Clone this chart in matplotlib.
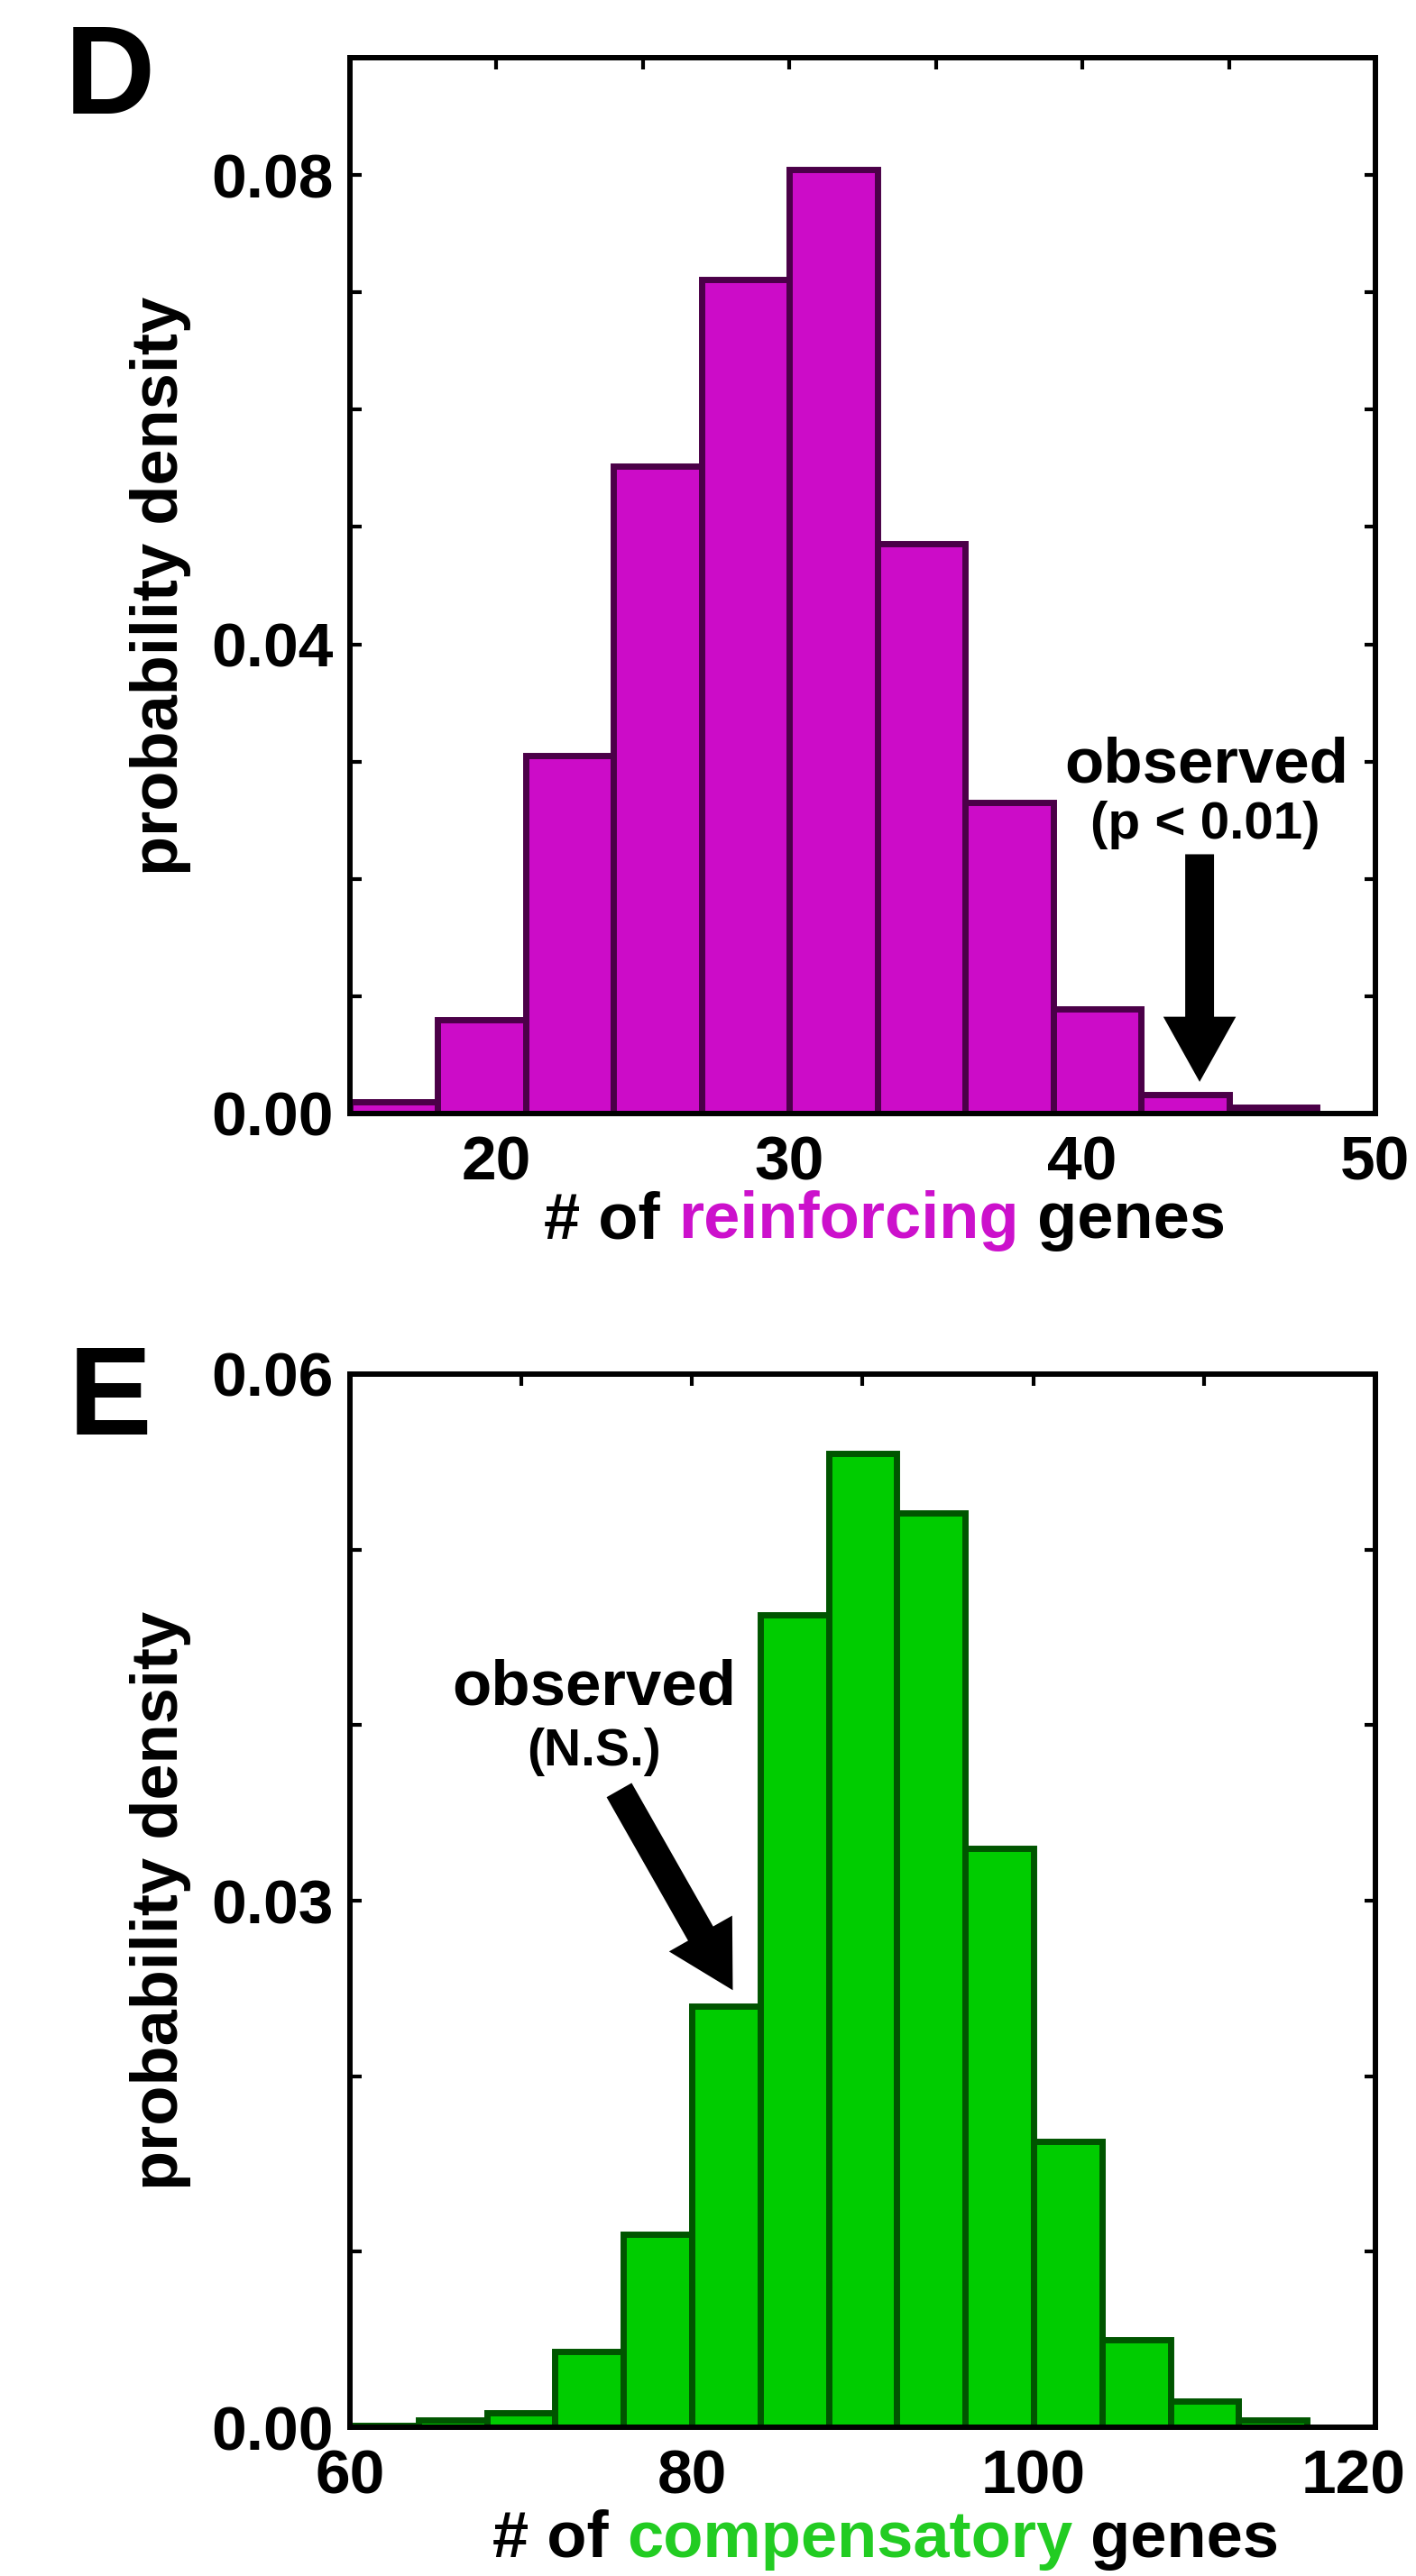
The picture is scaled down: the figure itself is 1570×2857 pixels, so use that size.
import matplotlib
matplotlib.use("Agg")
import matplotlib.pyplot as plt
from matplotlib.patches import ArrowStyle
from matplotlib.transforms import ScaledTranslation

plt.rcParams['font.family'] = ['Liberation Sans', 'DejaVu Sans']

# ---------------- data ----------------
# Panel D: reinforcing genes (bin edges width 3)
d_bin_left = [15, 18, 21, 24, 27, 30, 33, 36, 39, 42, 45]
d_density = [0.0010, 0.0080, 0.0305, 0.0552, 0.0711, 0.0805, 0.0486, 0.0265, 0.0089, 0.0016, 0.0005]
d_bin_width = 3
d_observed = 44.0
d_xticks = [20, 30, 40, 50]
d_yticks = [0.00, 0.04, 0.08]
d_yticklabels = ['0.00', '0.04', '0.08']

# Panel E: compensatory genes (bin edges width 4)
e_bin_left = [60, 64, 68, 72, 76, 80, 84, 88, 92, 96, 100, 104, 108, 112]
e_density = [0.0001, 0.0004, 0.0008, 0.0043, 0.0110, 0.0240, 0.0463, 0.0555,
             0.0521, 0.0330, 0.0163, 0.0050, 0.0015, 0.0004]
e_bin_width = 4
e_observed = 82.4
e_xticks = [60, 80, 100, 120]
e_yticks = [0.00, 0.03, 0.06]
e_yticklabels = ['0.00', '0.03', '0.06']

W, H = 1570, 2857
DPI = 100
fig = plt.figure(figsize=(W / DPI, H / DPI), dpi=DPI)

def px_axes(x0, y0, x1, y1):
    return fig.add_axes([x0 / W, 1 - y1 / H, (x1 - x0) / W, (y1 - y0) / H])

TICK_FS = 50
LABEL_FS = 52

def style_axes(ax, xlim, ylim, xmaj, xmin, ymaj, ymin, ylabels):
    ax.set_xlim(*xlim)
    ax.set_ylim(*ylim)
    ax.set_xticks(xmaj)
    ax.set_xticks(xmin, minor=True)
    ax.set_yticks(ymaj)
    ax.set_yticklabels(ylabels)
    ax.set_yticks(ymin, minor=True)
    for s in ax.spines.values():
        s.set_linewidth(4.3)
        s.set_zorder(5)
    ax.tick_params(axis='both', which='both', direction='in', top=True, right=True,
                   length=9, width=3)
    ax.tick_params(axis='x', which='major', pad=17, labelsize=TICK_FS)
    ax.tick_params(axis='y', which='major', pad=13, labelsize=TICK_FS)
    for lab in ax.get_xticklabels() + ax.get_yticklabels():
        lab.set_fontweight('bold')
    ax.set_ylabel('probability density', fontsize=LABEL_FS, fontweight='bold', va='center')
    ax.yaxis.set_label_coords(-0.185, 0.5)


def multicolor_xlabel(pieces, y_base_px, center_px):
    renderer = fig.canvas.get_renderer()
    texts = []
    for s, c in pieces:
        t = fig.text(0, 1 - y_base_px / H, s, color=c, fontsize=LABEL_FS,
                     fontweight='bold', ha='left', va='baseline')
        texts.append(t)
    sp = fig.text(0, 0, 'a a', fontsize=LABEL_FS, fontweight='bold')
    sp2 = fig.text(0, 0, 'aa', fontsize=LABEL_FS, fontweight='bold')
    space = sp.get_window_extent(renderer).width - sp2.get_window_extent(renderer).width
    sp.remove(); sp2.remove()
    widths = [t.get_window_extent(renderer).width for t in texts]
    total = sum(widths) + space * (len(texts) - 1)
    left = center_px - total / 2
    for t, w in zip(texts, widths):
        t.set_x(left / W)
        left += w + space


arrow_style = ArrowStyle.Simple(head_length=5.2, head_width=5.8, tail_width=2.3)

# ---------------- Panel D ----------------
axD = px_axes(388, 64, 1525, 1235)
axD.bar(d_bin_left, d_density, width=d_bin_width, align='edge',
        color='#CC0CC8', edgecolor='#4B0048', linewidth=5, zorder=2)
style_axes(axD, (15, 50), (0, 0.09), d_xticks, [25, 35, 45],
           d_yticks, [0.01, 0.02, 0.03, 0.05, 0.06, 0.07], d_yticklabels)
axD.annotate('', xy=(d_observed, 0.0027), xytext=(d_observed, 0.0221),
             arrowprops=dict(arrowstyle=arrow_style, mutation_scale=10,
                             fc='black', ec='none', shrinkA=0, shrinkB=0), zorder=6)
axD.text(44.24, 0.0296, 'observed', fontsize=51, fontweight='bold',
         ha='center', va='center')
axD.text(44.2, 0.0246, '(p < 0.01)', fontsize=42, fontweight='bold',
         ha='center', va='center')
fig.text(122 / W, 1 - 90 / H, 'D', fontsize=100, fontweight='bold', ha='center', va='center')

# ---------------- Panel E ----------------
axE = px_axes(388, 1524, 1525, 2692)
axE.bar(e_bin_left, e_density, width=e_bin_width, align='edge',
        color='#00CC00', edgecolor='#005500', linewidth=5, zorder=2)
style_axes(axE, (60, 120), (0, 0.06), e_xticks, [70, 90, 110],
           e_yticks, [0.01, 0.02, 0.04, 0.05], e_yticklabels)
axE.annotate('', xy=(e_observed, 0.0249), xytext=(75.75, 0.0363),
             arrowprops=dict(arrowstyle=arrow_style, mutation_scale=10,
                             fc='black', ec='none', shrinkA=0, shrinkB=0), zorder=6)
axE.text(74.3, 0.0421, 'observed', fontsize=51, fontweight='bold',
         ha='center', va='center')
axE.text(74.3, 0.0385, '(N.S.)', fontsize=41, fontweight='bold',
         ha='center', va='center')
fig.text(122 / W, 1 - 1555 / H, 'E', fontsize=100, fontweight='bold', ha='center', va='center')

# keep the last x tick label of E inside the picture (image edge)
last = axE.xaxis.get_major_ticks()[-1].label1
last.set_transform(last.get_transform() + ScaledTranslation(-24 / DPI, 0, fig.dpi_scale_trans))

fig.canvas.draw()
multicolor_xlabel([('# of', 'black'), ('reinforcing', '#CC11CC'), ('genes', 'black')],
                  1373, 981)
multicolor_xlabel([('# of', 'black'), ('compensatory', '#22CC22'), ('genes', 'black')],
                  2836, 982)

fig.savefig('out.png', dpi=DPI, facecolor='white')
